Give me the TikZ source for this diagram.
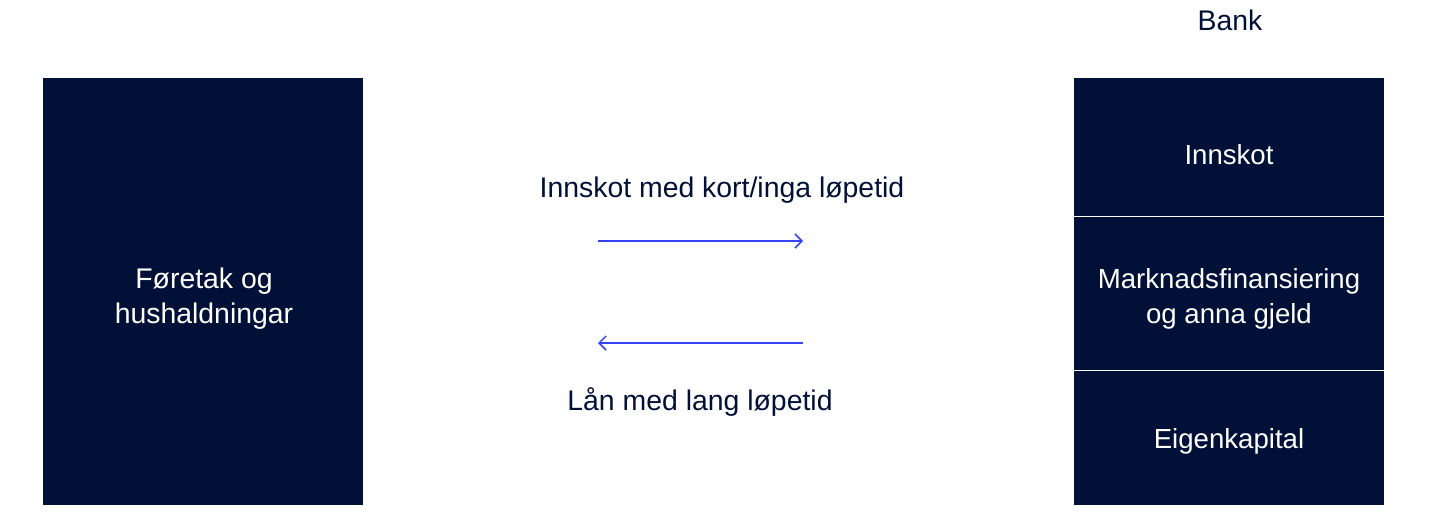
\documentclass[tikz,border=0pt]{standalone}
\usepackage{fontspec}
\setmainfont{Liberation Sans}
\usetikzlibrary{arrows.meta}
\definecolor{navy}{RGB}{0,16,55}
\definecolor{flowblue}{RGB}{52,68,245}
\tikzset{
    sector/.style={fill=navy,text=white,align=center,inner sep=0pt},
    intext/.style={text=white,align=center,font=\fontsize{13.8pt}{17.5pt}\selectfont},
    flow/.style={draw=flowblue,line width=0.75pt,-{Straight Barb[length=3.5pt,width=7pt]}},
    lbl/.style={text=navy,align=center}
}
\begin{document}
\begin{tikzpicture}[x=0.5pt,y=-0.5pt,font=\fontsize{14.2pt}{17.5pt}\selectfont]
    \useasboundingbox (0,0) rectangle (1445,531);
    % households
    \node[sector,minimum width=160pt,minimum height=213.5pt] (hh) at (203,291.5) {};
    \node[text=white,align=center] (hhtxt) at (204,299) {Føretak og\\hushaldningar};
    % bank balance sheet
    \node[lbl] (bank) at (1230,20) {Bank};
    \node[sector,minimum width=155pt,minimum height=69pt] (dep) at (1229,147) {};
    \node[sector,minimum width=155pt,minimum height=77pt] (mkt) at (1229,293) {};
    \node[sector,minimum width=155pt,minimum height=67.5pt] (eq) at (1229,437.75) {};
    \draw[white,line width=0.8pt] (dep.south west) -- (dep.south east);
    \draw[white,line width=0.8pt] (mkt.south west) -- (mkt.south east);
    \node[intext] (deptxt) at (1229,155) {Innskot};
    \node[intext] (mkttxt) at (1229,299) {Marknadsfinansiering\\og anna gjeld};
    \node[intext] (eqtxt) at (1229,441) {Eigenkapital};
    % flows
    \coordinate (a1) at (598,241);
    \coordinate (a2) at (803,241);
    \coordinate (b1) at (803,343);
    \coordinate (b2) at (598,343);
    \draw[flow] (a1) -- (a2);
    \draw[flow] (b1) -- (b2);
    \node[lbl] (deplbl) at (722,190) {Innskot med kort/inga løpetid};
    \node[lbl] (loanlbl) at (700,402) {Lån med lang løpetid};
\end{tikzpicture}
\end{document}
